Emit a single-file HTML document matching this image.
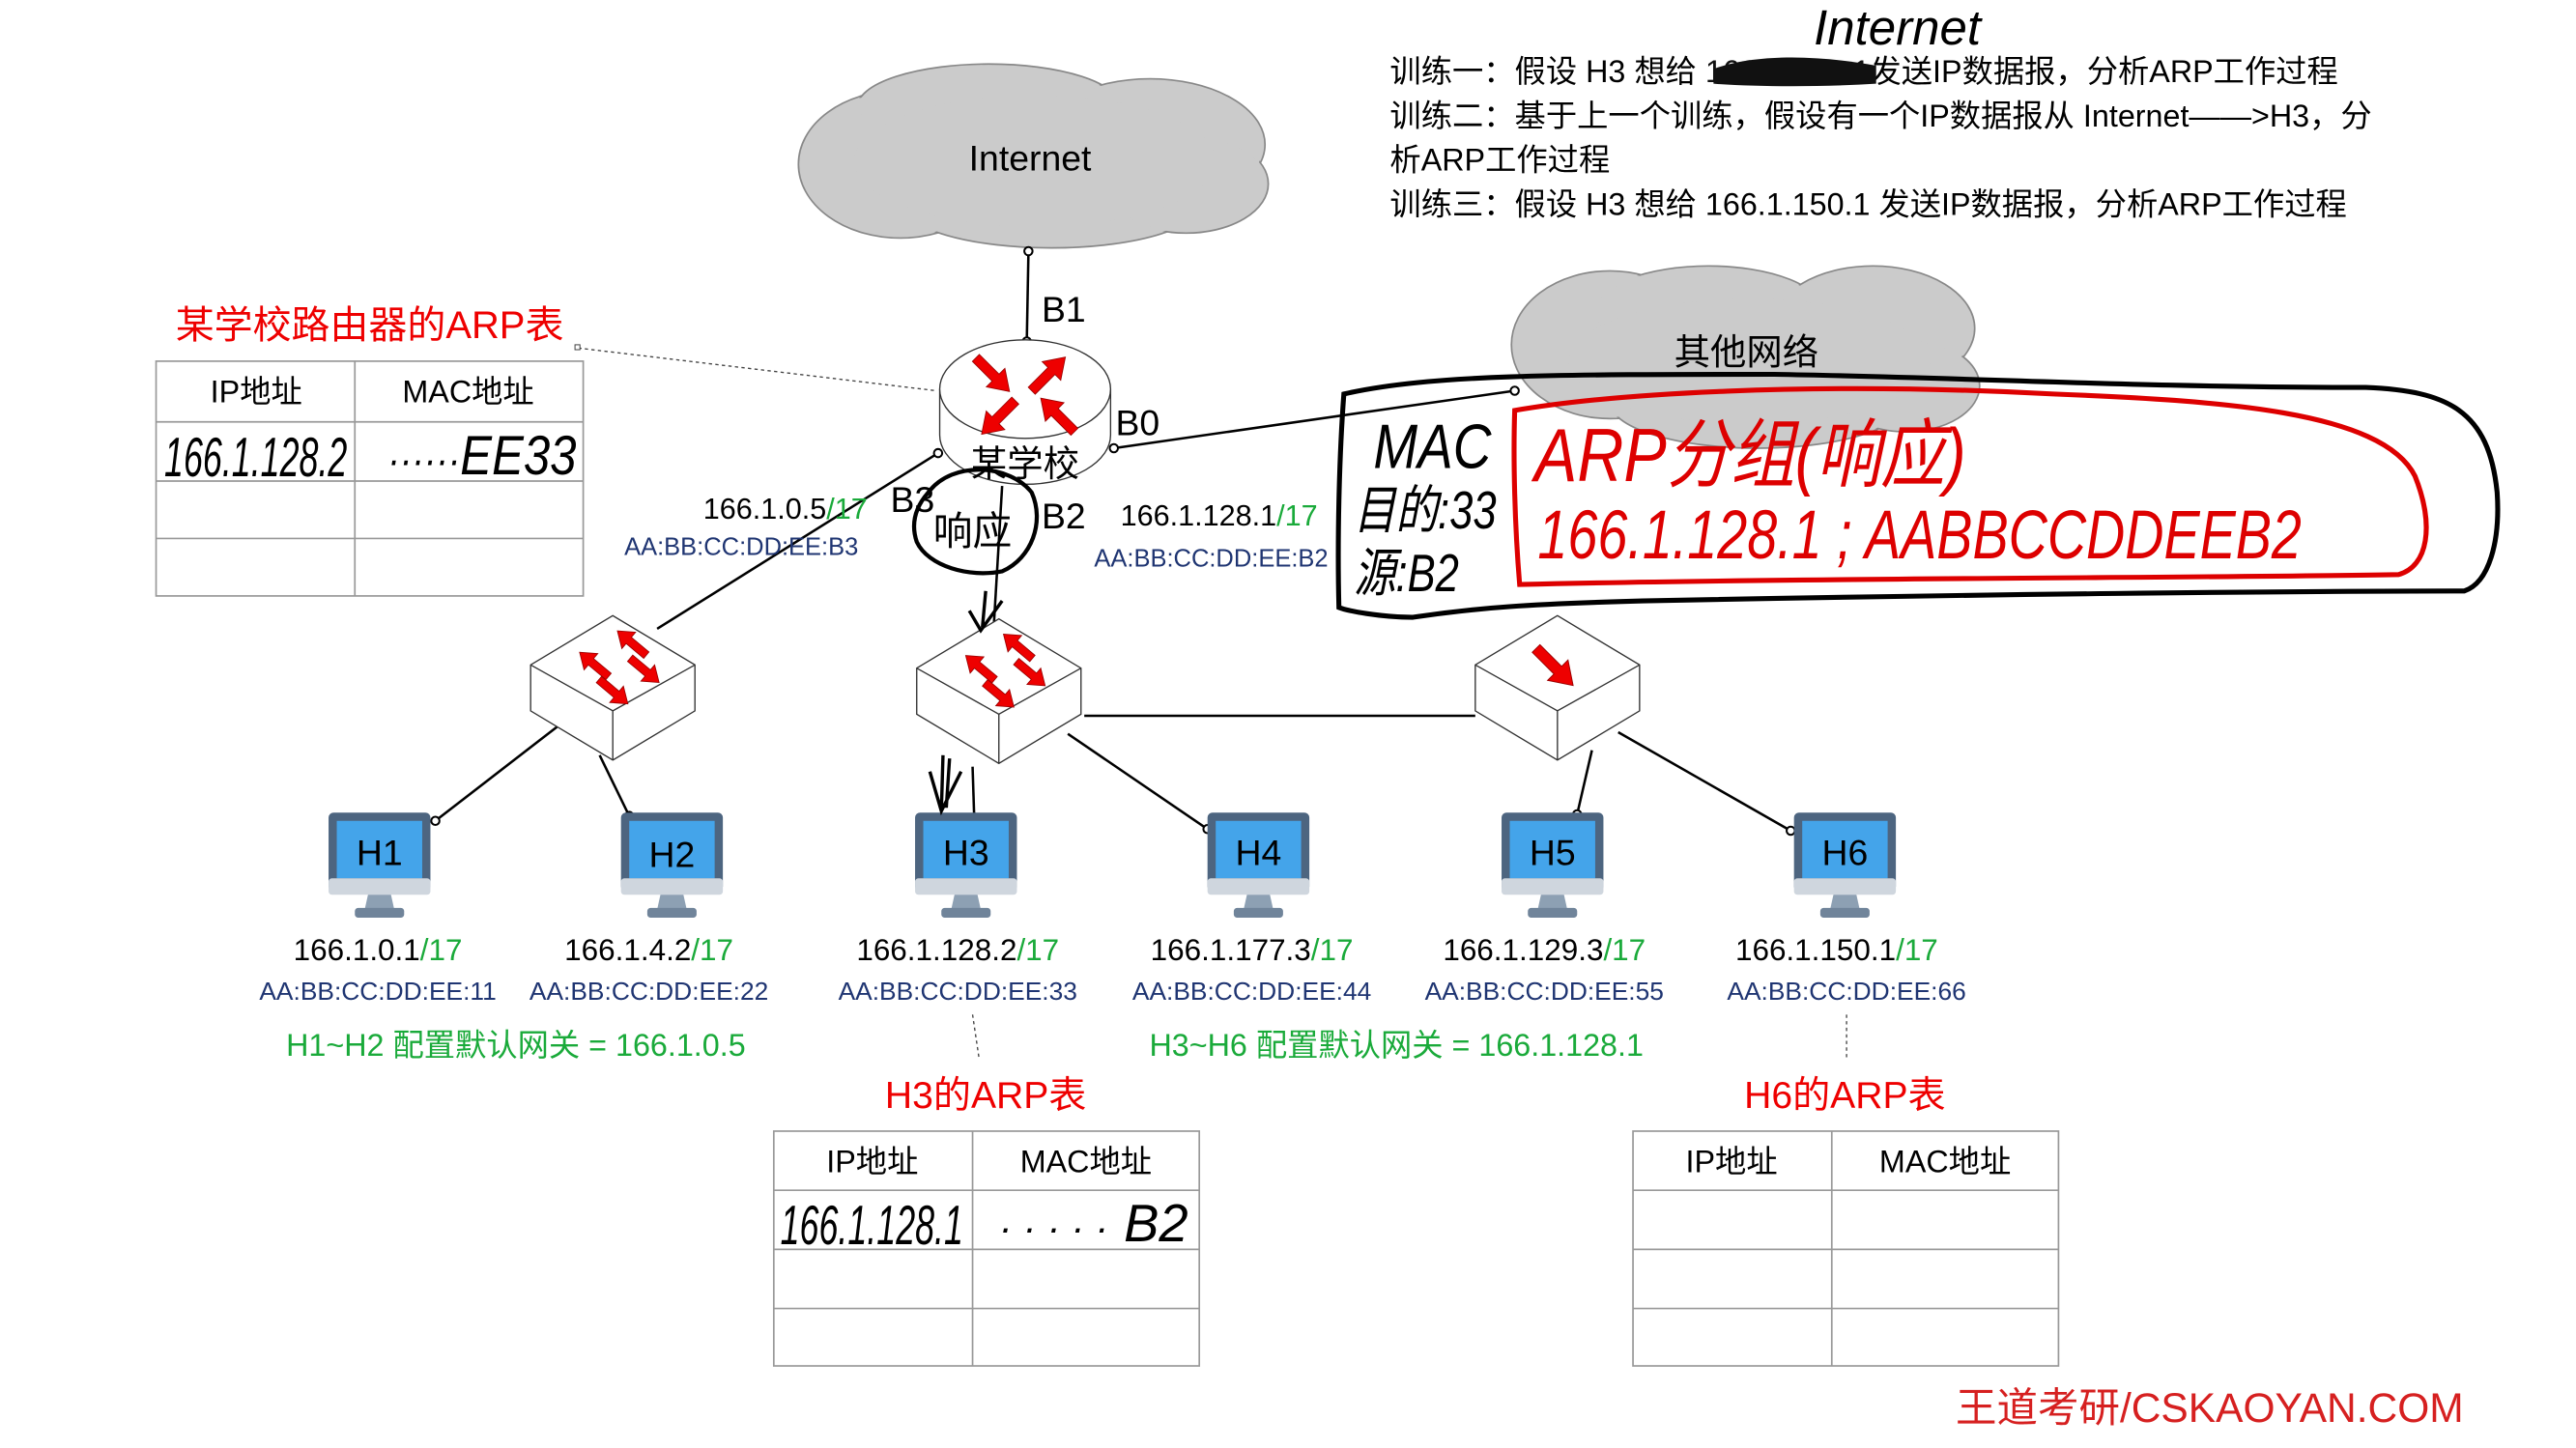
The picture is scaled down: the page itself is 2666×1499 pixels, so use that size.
<!DOCTYPE html>
<html><head><meta charset="utf-8"><style>
html,body{margin:0;padding:0;background:#fff}
svg{display:block}
text{font-family:"Liberation Sans","Noto Sans CJK SC",sans-serif}
.hw{font-family:"Liberation Sans Narrow","Liberation Sans","Noto Sans CJK SC",sans-serif}
</style></head><body>
<svg width="2666" height="1499" viewBox="0 0 1568 882" preserveAspectRatio="none" xmlns="http://www.w3.org/2000/svg">
<defs>
<g id="mon">
<rect x="0" y="0" width="62" height="48" rx="3" fill="#4d6580"/>
<rect x="5" y="5" width="52" height="35" fill="#44a4ea"/>
<rect x="0" y="40" width="62" height="10" rx="2" fill="#cfd6de"/>
<polygon points="24,50 38,50 40,59 22,59" fill="#8da0b3"/>
<rect x="16" y="58" width="30" height="6" rx="2" fill="#70849a"/>
</g>
<g id="sw" fill="#fff" stroke="#333" stroke-width="0.8">
<polygon points="0,30 50,0 100,30 100,58 50,88 0,58"/>
<polyline points="0,30 50,58 100,30" fill="none"/>
<line x1="50" y1="58" x2="50" y2="88"/>
</g>
<g id="arr"><path d="M0,-3 L17,-3 L17,-8 L29,0 L17,8 L17,3 L0,3 Z" fill="#e00" stroke="#900" stroke-width="0.5"/></g>
<g id="a2"><path d="M-11,-2.5 L3,-2.5 L3,-6.5 L12,0 L3,6.5 L3,2.5 L-11,2.5 Z" fill="#e00" stroke="#900" stroke-width="0.5"/></g>
</defs>

<!-- Internet cloud -->
<g stroke="#888" stroke-width="1" fill="#cbcbcb">
<ellipse cx="548" cy="100" rx="62" ry="45"/><ellipse cx="602" cy="65" rx="80" ry="26"/><ellipse cx="700" cy="88" rx="70" ry="40"/><ellipse cx="640" cy="125" rx="90" ry="26"/><ellipse cx="722" cy="112" rx="50" ry="30"/>
</g>
<g fill="#cbcbcb">
<ellipse cx="548" cy="100" rx="61" ry="44"/><ellipse cx="602" cy="65" rx="79" ry="25"/><ellipse cx="700" cy="88" rx="69" ry="39"/><ellipse cx="640" cy="125" rx="89" ry="25"/><ellipse cx="722" cy="112" rx="49" ry="29"/><ellipse cx="630" cy="98" rx="110" ry="40"/>
</g>
<text x="627" y="104" font-size="22" text-anchor="middle">Internet</text>

<!-- other network cloud -->
<g stroke="#888" stroke-width="1" fill="#cbcbcb">
<ellipse cx="980" cy="210" rx="60" ry="45"/><ellipse cx="1040" cy="190" rx="70" ry="28"/><ellipse cx="1140" cy="200" rx="62" ry="38"/><ellipse cx="1070" cy="245" rx="90" ry="28"/><ellipse cx="1160" cy="235" rx="45" ry="28"/>
</g>
<g fill="#cbcbcb">
<ellipse cx="980" cy="210" rx="59" ry="44"/><ellipse cx="1040" cy="190" rx="69" ry="27"/><ellipse cx="1140" cy="200" rx="61" ry="37"/><ellipse cx="1070" cy="245" rx="89" ry="27"/><ellipse cx="1160" cy="235" rx="44" ry="27"/><ellipse cx="1065" cy="220" rx="110" ry="38"/>
</g>
<text x="1063" y="222" font-size="22" text-anchor="middle">其他网络</text>

<!-- connectors -->
<g stroke="#000" stroke-width="1.5" fill="none">
<line x1="626" y1="154" x2="625" y2="208"/>
<line x1="678" y1="273" x2="922" y2="238"/>
<line x1="571" y1="276" x2="400" y2="383"/>
<line x1="610" y1="296" x2="605" y2="380"/>
<line x1="660" y1="436" x2="898" y2="436"/>
<line x1="340" y1="442" x2="265" y2="500"/>
<line x1="365" y1="460" x2="383" y2="497"/>
<line x1="592" y1="467" x2="593" y2="498"/>
<line x1="650" y1="447" x2="735" y2="505"/>
<line x1="969" y1="457" x2="960" y2="496"/>
<line x1="985" y1="446" x2="1090" y2="506"/>
</g>
<g fill="#fff" stroke="#000" stroke-width="1.2">
<circle cx="626" cy="153" r="2.5"/><circle cx="625" cy="208" r="2.5"/><circle cx="678" cy="273" r="2.5"/><circle cx="571" cy="276" r="2.5"/>
<circle cx="265" cy="500" r="2.5"/><circle cx="383" cy="497" r="2.5"/><circle cx="593" cy="498" r="2.5"/><circle cx="735" cy="505" r="2.5"/><circle cx="960" cy="496" r="2.5"/><circle cx="1090" cy="506" r="2.5"/><circle cx="922" cy="238" r="2.5"/>
</g>
<line x1="352" y1="212" x2="570" y2="238" stroke="#444" stroke-width="0.8" stroke-dasharray="2,2"/>
<rect x="350" y="210" width="3" height="3" fill="#fff" stroke="#444" stroke-width="0.6"/>

<!-- router -->
<path d="M572,237 L572,265 A52,30 0 0 0 676,265 L676,237" fill="#fff" stroke="#333" stroke-width="0.8"/>
<ellipse cx="624" cy="237" rx="52" ry="30" fill="#fff" stroke="#333" stroke-width="0.8"/>
<use href="#arr" transform="translate(594,218) rotate(45)"/>
<use href="#arr" transform="translate(628,238) rotate(-45)"/>
<use href="#arr" transform="translate(618,244) rotate(135)"/>
<use href="#arr" transform="translate(654,263) rotate(-135)"/>
<text x="624" y="290" font-size="22" text-anchor="middle">某学校</text>
<text x="634" y="196" font-size="22">B1</text>
<text x="679" y="265" font-size="22">B0</text>
<text x="634" y="322" font-size="22">B2</text>
<text x="542" y="312" font-size="22">B3</text>
<text x="428" y="316" font-size="18">166.1.0.5<tspan fill="#1aaa3a">/17</tspan></text>
<text x="380" y="338" font-size="15" fill="#1f3572">AA:BB:CC:DD:EE:B3</text>
<text x="682" y="320" font-size="18">166.1.128.1<tspan fill="#1aaa3a">/17</tspan></text>
<text x="666" y="345" font-size="15" fill="#1f3572">AA:BB:CC:DD:EE:B2</text>

<!-- switches -->
<use href="#sw" x="323" y="375"/>
<use href="#sw" x="558" y="377"/>
<use href="#sw" x="898" y="375"/>
<g>
<use href="#a2" transform="translate(385,392) rotate(-140)"/>
<use href="#a2" transform="translate(362,405) rotate(-140)"/>
<use href="#a2" transform="translate(392,408) rotate(40)"/>
<use href="#a2" transform="translate(373,421) rotate(40)"/>
<use href="#a2" transform="translate(620,394) rotate(-140)"/>
<use href="#a2" transform="translate(597,407) rotate(-140)"/>
<use href="#a2" transform="translate(627,410) rotate(40)"/>
<use href="#a2" transform="translate(608,423) rotate(40)"/>
</g>
<use href="#arr" transform="translate(935,395) rotate(45) scale(1.1)"/>

<!-- hosts -->
<g font-size="22" text-anchor="middle">
<use href="#mon" x="200" y="495"/><text x="231" y="527">H1</text>
<use href="#mon" x="378" y="495"/><text x="409" y="528">H2</text>
<use href="#mon" x="557" y="495"/><text x="588" y="527">H3</text>
<use href="#mon" x="735" y="495"/><text x="766" y="527">H4</text>
<use href="#mon" x="914" y="495"/><text x="945" y="527">H5</text>
<use href="#mon" x="1092" y="495"/><text x="1123" y="527">H6</text>
</g>
<g font-size="18.5" text-anchor="middle">
<text x="230" y="585">166.1.0.1<tspan fill="#1aaa3a">/17</tspan></text>
<text x="395" y="585">166.1.4.2<tspan fill="#1aaa3a">/17</tspan></text>
<text x="583" y="585">166.1.128.2<tspan fill="#1aaa3a">/17</tspan></text>
<text x="762" y="585">166.1.177.3<tspan fill="#1aaa3a">/17</tspan></text>
<text x="940" y="585">166.1.129.3<tspan fill="#1aaa3a">/17</tspan></text>
<text x="1118" y="585">166.1.150.1<tspan fill="#1aaa3a">/17</tspan></text>
</g>
<g font-size="15.5" text-anchor="middle" fill="#1f3572">
<text x="230" y="609">AA:BB:CC:DD:EE:11</text>
<text x="395" y="609">AA:BB:CC:DD:EE:22</text>
<text x="583" y="609">AA:BB:CC:DD:EE:33</text>
<text x="762" y="609">AA:BB:CC:DD:EE:44</text>
<text x="940" y="609">AA:BB:CC:DD:EE:55</text>
<text x="1124" y="609">AA:BB:CC:DD:EE:66</text>
</g>
<text x="314" y="643" font-size="19" fill="#1aaa3a" text-anchor="middle">H1~H2 配置默认网关 = 166.1.0.5</text>
<text x="850" y="643" font-size="19" fill="#1aaa3a" text-anchor="middle">H3~H6 配置默认网关 = 166.1.128.1</text>
<line x1="592" y1="618" x2="596" y2="645" stroke="#444" stroke-width="0.8" stroke-dasharray="2,2"/>
<line x1="1124" y1="618" x2="1124" y2="645" stroke="#444" stroke-width="0.8" stroke-dasharray="2,2"/>

<!-- titles -->
<text x="225" y="206" font-size="23.5" fill="#e00" text-anchor="middle">某学校路由器的ARP表</text>
<text x="600" y="675" font-size="23" fill="#e00" text-anchor="middle">H3的ARP表</text>
<text x="1123" y="675" font-size="23" fill="#e00" text-anchor="middle">H6的ARP表</text>

<!-- tables -->
<g fill="none" stroke="#999" stroke-width="1">
<rect x="95" y="220" width="260" height="143"/><line x1="216" y1="220" x2="216" y2="363"/>
<line x1="95" y1="257" x2="355" y2="257"/><line x1="95" y1="293" x2="355" y2="293"/><line x1="95" y1="328" x2="355" y2="328"/>
<rect x="471" y="689" width="259" height="143"/><line x1="592" y1="689" x2="592" y2="832"/>
<line x1="471" y1="725" x2="730" y2="725"/><line x1="471" y1="761" x2="730" y2="761"/><line x1="471" y1="797" x2="730" y2="797"/>
<rect x="994" y="689" width="259" height="143"/><line x1="1115" y1="689" x2="1115" y2="832"/>
<line x1="994" y1="725" x2="1253" y2="725"/><line x1="994" y1="761" x2="1253" y2="761"/><line x1="994" y1="797" x2="1253" y2="797"/>
</g>
<g font-size="19" text-anchor="middle">
<text x="156" y="245">IP地址</text><text x="285" y="245">MAC地址</text>
<text x="531" y="714">IP地址</text><text x="661" y="714">MAC地址</text>
<text x="1054" y="714">IP地址</text><text x="1184" y="714">MAC地址</text>
</g>
<g class="hw" font-size="34" font-style="italic">
<text x="100" y="290" transform="translate(100,290) scale(0.62,1) translate(-100,-290)">166.1.128.2</text>
<text x="236" y="289" transform="translate(236,289) scale(0.85,1) translate(-236,-289)"><tspan font-size="26">······</tspan>EE33</text>
<text x="475" y="758" transform="translate(475,758) scale(0.62,1) translate(-475,-758)">166.1.128.1</text>
<text x="608" y="756"><tspan font-size="24">· · · · ·</tspan>    <tspan font-size="32">B2</tspan></text>
</g>

<!-- top-right text -->
<g font-size="19">
<text x="846" y="50">训练一：假设 H3 想给 <tspan fill="#111">166.1.128.1</tspan>发送IP数据报，分析ARP工作过程</text>
<text x="846" y="77">训练二：基于上一个训练，假设有一个IP数据报从 Internet——&gt;H3，分</text>
<text x="846" y="104">析ARP工作过程</text>
<text x="846" y="131">训练三：假设 H3 想给 166.1.150.1 发送IP数据报，分析ARP工作过程</text>
</g>
<path d="M1043,42 C1070,32 1110,34 1142,40 L1142,51 C1110,53 1070,53 1043,51 Z" fill="#111"/>
<text x="1104" y="27" class="hw" font-size="30" font-style="italic">Internet</text>

<!-- handwritten box -->
<path d="M818,240 C870,228 950,228 1080,228 C1200,230 1300,236 1440,236 C1490,238 1515,250 1520,300 C1522,330 1515,355 1500,360 C1400,360 1200,362 1000,366 C930,368 900,370 860,376 C840,376 820,372 815,370 C814,330 815,280 818,240 Z" fill="none" stroke="#000" stroke-width="3"/>
<path d="M922,250 C980,240 1100,232 1250,240 C1350,244 1450,250 1470,290 C1482,320 1478,345 1460,350 C1350,352 1100,352 925,356 C922,320 921,280 922,250 Z" fill="none" stroke="#d00" stroke-width="3"/>
<g class="hw" font-style="italic">
<text x="836" y="285" font-size="38" transform="translate(836,285) scale(0.85,1) translate(-836,-285)">MAC</text>
<text x="824" y="322" font-size="32" transform="translate(824,322) scale(0.8,1) translate(-824,-322)">目的:33</text>
<text x="824" y="360" font-size="32" transform="translate(824,360) scale(0.8,1) translate(-824,-360)">源:B2</text>
<text x="934" y="293" font-size="46" fill="#d00" transform="translate(934,293) scale(0.85,1) translate(-934,-293)">ARP分组(响应)</text>
<text x="936" y="340" font-size="42" fill="#d00" transform="translate(936,340) scale(0.78,1) translate(-936,-340)">166.1.128.1 ; AABBCCDDEEB2</text>
</g>

<!-- handwritten circle near B2 -->
<path d="M565,300 C580,280 615,283 628,300 C636,318 628,340 610,348 C590,352 565,345 558,330 C554,318 558,308 565,300 Z" fill="none" stroke="#000" stroke-width="2.5"/>
<text x="568" y="332" class="hw" font-size="24">响应</text>
<path d="M600,360 L598,382 M590,372 L597,384 L610,366" fill="none" stroke="#000" stroke-width="2"/>
<path d="M574,460 L573,494 M566,470 L573,494 L585,470 M578,462 L576,492" fill="none" stroke="#000" stroke-width="2"/>

<text x="1345" y="866" font-size="25" fill="#d62020" text-anchor="middle">王道考研/CSKAOYAN.COM</text>
</svg>
</body></html>
